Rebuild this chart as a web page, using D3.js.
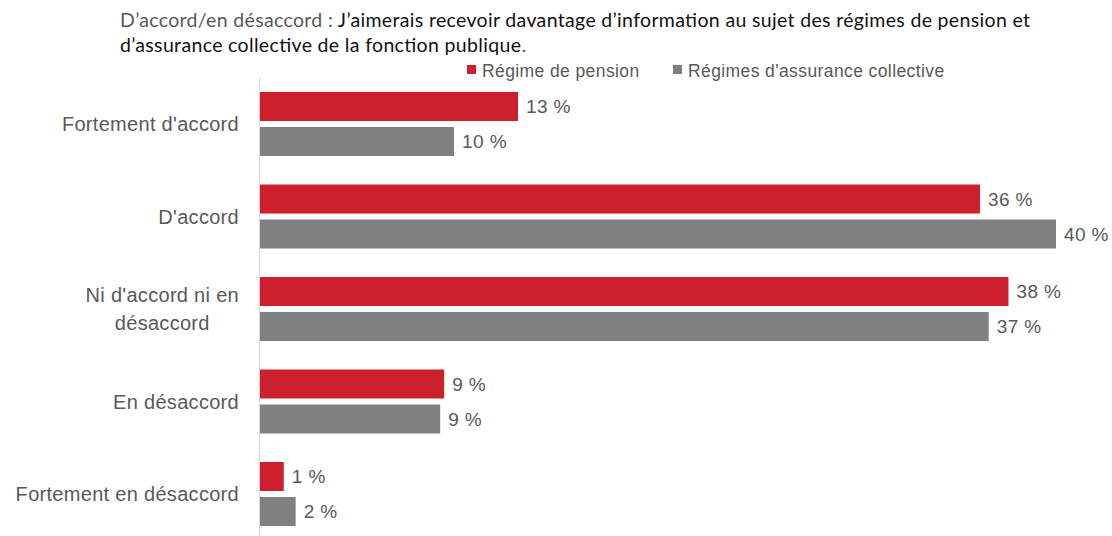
<!DOCTYPE html>
<html><head><meta charset="utf-8">
<script src="https://cdn.jsdelivr.net/npm/d3@7"></script>
<style>
body{margin:0;background:#fff;}
svg{display:block;}
</style></head>
<body>
<svg id="chart" width="1112" height="536"></svg>
<script>
const categories = ["Fortement d'accord", "D'accord", "Ni d'accord ni en|désaccord", "En désaccord", "Fortement en désaccord"];
const seriesNames = ["Régime de pension", "Régimes d'assurance collective"];
const pensionValues = [13.03, 36.36, 37.8, 9.3, 1.2];
const assuranceValues = [9.8, 40.2, 36.8, 9.1, 1.8];
const colors = ["#CD202C", "#808080"];
const titlePrefix = "D’accord/en désaccord : ";
const titleLine1 = "J’aimerais recevoir davantage d’information au sujet des régimes de pension et";
const titleLine2 = "d’assurance collective de la fonction publique";

const svg = d3.select("#chart");
const labelFont = "'Liberation Sans', Arial, sans-serif";
const titleFont = "Lato, 'Open Sans', sans-serif";

const x = d3.scaleLinear().domain([0, 40.2]).range([260, 1056]);
const y = d3.scaleBand().domain(categories).range([77.75, 540.25]);
const inner = d3.scaleBand().domain(seriesNames).range([-32, 32]).paddingInner(2 - 64/35);

const data = categories.map((c, i) => ({cat: c, vals: [pensionValues[i], assuranceValues[i]]}));

// Title
const t1 = svg.append("text").attr("x", 120).attr("y", 27)
  .attr("font-family", titleFont).attr("font-size", 19.5)
  .attr("textLength", 910).attr("lengthAdjust", "spacing");
t1.append("tspan").attr("fill", "#595959").text(titlePrefix);
t1.append("tspan").attr("fill", "#111").text(titleLine1);
const t2 = svg.append("text").attr("x", 120).attr("y", 52)
  .attr("font-family", titleFont).attr("font-size", 19.5)
  .attr("textLength", 406).attr("lengthAdjust", "spacing");
t2.append("tspan").attr("fill", "#111").text(titleLine2);
t2.append("tspan").attr("fill", "#595959").text(".");

// Legend
const legendX = [467, 673];
seriesNames.forEach((s, i) => {
  svg.append("rect").attr("x", legendX[i]).attr("y", 65).attr("width", 9).attr("height", 9).attr("fill", colors[i]);
  svg.append("text").attr("x", legendX[i] + 15).attr("y", 77)
    .attr("font-family", labelFont).attr("font-size", 17.5).attr("letter-spacing", 0.4)
    .attr("fill", "#595959").text(s);
});

// Axis line
svg.append("line").attr("x1", 259.5).attr("x2", 259.5).attr("y1", 78).attr("y2", 536)
  .attr("stroke", "#d9d9d9").attr("stroke-width", 1);

// Bars
const groups = svg.selectAll("g.cat").data(data).join("g").attr("class", "cat")
  .attr("transform", d => `translate(0,${y(d.cat) + y.bandwidth()/2})`);

groups.selectAll("rect").data(d => d.vals.map((v, i) => ({v, s: seriesNames[i], i})))
  .join("rect")
  .attr("x", x(0)).attr("y", d => inner(d.s))
  .attr("width", d => x(d.v) - x(0)).attr("height", inner.bandwidth())
  .attr("fill", d => colors[d.i]);

groups.selectAll("text.val").data(d => d.vals.map((v, i) => ({v, s: seriesNames[i], i})))
  .join("text").attr("class", "val")
  .attr("x", d => x(d.v) + 8).attr("y", d => inner(d.s) + inner.bandwidth()/2)
  .attr("dy", "0.35em")
  .attr("font-family", labelFont).attr("font-size", 19).attr("letter-spacing", 0.4)
  .attr("fill", "#595959")
  .text(d => Math.round(d.v) + " %");

// Category labels
groups.each(function(d) {
  const g = d3.select(this);
  const lines = d.cat.split("|");
  const mk = (yy, txt, anchor, xx) => g.append("text").attr("x", xx).attr("y", yy).attr("dy", "0.35em")
      .attr("text-anchor", anchor).attr("font-family", labelFont).attr("font-size", 20)
      .attr("letter-spacing", 0.3).attr("fill", "#595959").text(txt);
  if (lines.length === 1) {
    mk(0, lines[0], "end", 239);
  } else {
    const l1 = mk(-14, lines[0], "end", 239);
    const w = l1.node().getComputedTextLength();
    mk(14, lines[1], "middle", 239 - w/2);
  }
});
</script>
</body></html>
